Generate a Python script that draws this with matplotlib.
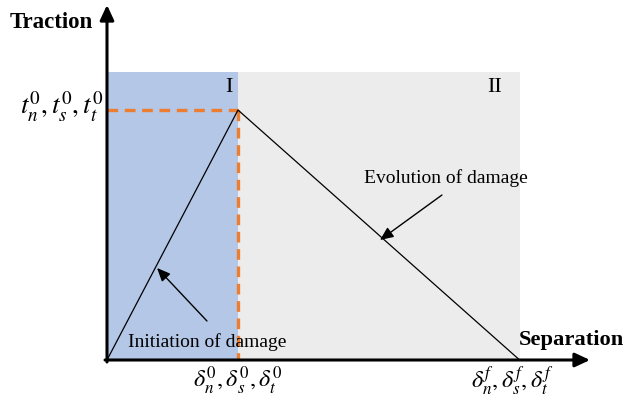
import matplotlib
matplotlib.use("Agg")
import matplotlib.pyplot as plt
from matplotlib.patches import Rectangle

# ---- data (normalised traction-separation law) ----
delta0 = 1.0          # separation at damage initiation
deltaf = 3.15         # separation at complete failure
t0 = 1.0              # peak traction
region_top = 1.152    # top of shaded regions
curve_x = [0.0, delta0, deltaf]
curve_y = [0.0, t0, 0.0]
region_labels = ["I", "II"]
x_axis_label = "Separation"
y_axis_label = "Traction"
t_label = r"$t_n^0, t_s^0, t_t^0$"
d0_label = r"$\delta_n^0, \delta_s^0, \delta_t^0$"
df_label = r"$\delta_n^f, \delta_s^f, \delta_t^f$"
ann_init = "Initiation of damage"
ann_evol = "Evolution of damage"

plt.rcParams["mathtext.fontset"] = "stix"
serif = ["Liberation Serif", "DejaVu Serif"]

fig = plt.figure(figsize=(6.27, 4.0), dpi=100)
ax = fig.add_axes([0, 0, 1, 1])
# pixel mapping: origin at (107,360) px, 131 px per delta0, 250 px per t0
ax.set_xlim(-107 / 131, (627 - 107) / 131)
ax.set_ylim((360 - 400) / 250, 360 / 250)
ax.axis("off")

blue = "#b4c7e7"
grey = "#ececec"
orange = "#ed7d31"

ax.add_patch(Rectangle((0, 0), delta0, region_top, facecolor=blue, edgecolor="none", zorder=1))
ax.add_patch(Rectangle((delta0, 0), deltaf - delta0, region_top, facecolor=grey, edgecolor="none", zorder=1))

# orange dashed guide lines
ax.plot([0, delta0], [t0, t0], color=orange, lw=2.4, dashes=(3.2, 2.0), zorder=3)
ax.plot([delta0, delta0], [t0, 0], color=orange, lw=2.4, dashes=(3.2, 2.0), zorder=3)

# traction-separation curve
ax.plot(curve_x, curve_y, color="black", lw=0.9, zorder=4)

# axes with arrows
x_end = (590 - 107) / 131
y_end = (360 - 5) / 250
ax.annotate("", xy=(x_end, 0), xytext=(-0.015, 0),
            arrowprops=dict(arrowstyle="-|>,head_length=0.9,head_width=0.42", lw=2.2, color="black",
                            shrinkA=0, shrinkB=0), zorder=5)
ax.annotate("", xy=(0, y_end), xytext=(0, -0.008),
            arrowprops=dict(arrowstyle="-|>,head_length=0.9,head_width=0.42", lw=2.2, color="black",
                            shrinkA=0, shrinkB=0), zorder=5)

# axis titles
ax.text(-0.741, 1.352, y_axis_label, fontsize=16.5, fontweight="bold", family=serif, va="center", ha="left")
ax.text(3.145, 0.08, x_axis_label, fontsize=16.2, fontweight="bold", family=serif, va="center", ha="left")

# region labels
ax.text(0.93, 1.092, region_labels[0], fontsize=16, family=serif, va="center", ha="center")
ax.text(2.96, 1.092, region_labels[1], fontsize=16, family=serif, va="center", ha="center")

# math labels
ax.text(-0.03, t0 + 0.012, t_label, fontsize=19.5, va="center", ha="right")
ax.text(delta0, -0.085, d0_label, fontsize=17.5, va="center", ha="center")
ax.text(3.09, -0.085, df_label, fontsize=17.5, va="center", ha="center")

# annotations
ax.text(0.16, 0.072, ann_init, fontsize=14, family=serif, va="center", ha="left", zorder=6)
ax.annotate("", xy=(0.382, 0.368), xytext=(0.763, 0.156),
            arrowprops=dict(arrowstyle="-|>,head_length=0.8,head_width=0.35", lw=1.0, color="black",
                            shrinkA=0, shrinkB=0), zorder=6)
ax.text(1.962, 0.728, ann_evol, fontsize=14, family=serif, va="center", ha="left", zorder=6)
ax.annotate("", xy=(2.084, 0.48), xytext=(2.557, 0.66),
            arrowprops=dict(arrowstyle="-|>,head_length=0.8,head_width=0.35", lw=1.0, color="black",
                            shrinkA=0, shrinkB=0), zorder=6)

fig.savefig("out.png", dpi=100)
